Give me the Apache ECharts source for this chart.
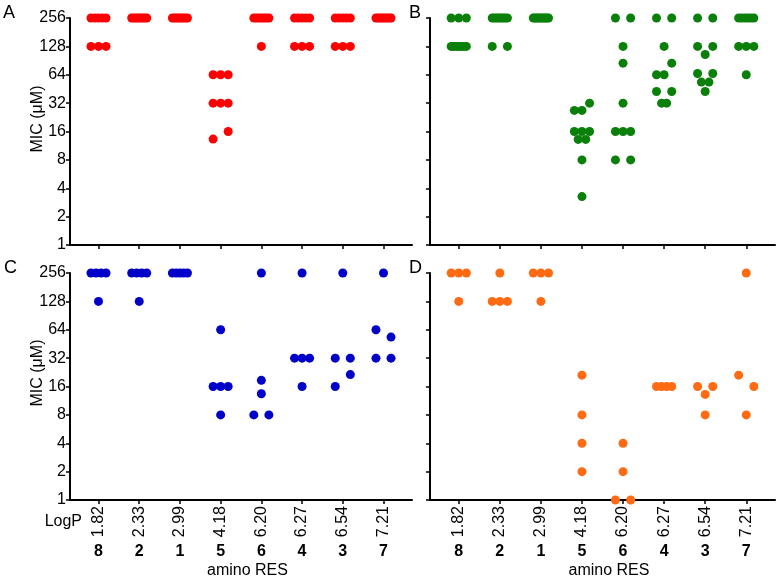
<!DOCTYPE html>
<html><head><meta charset="utf-8">
<script src="https://cdn.jsdelivr.net/npm/echarts@6/dist/echarts.min.js"></script>
<style>html,body{margin:0;padding:0;background:#fff}#c{width:777px;height:581px}</style>
</head><body><div id="c"></div>
<script>
// ---- data ----
const compounds = ['8','2','1','5','6','4','3','7'];
const logP = ['1.82','2.33','2.99','4.18','6.20','6.27','6.54','7.21'];
const yTicks = [1,2,4,8,16,32,64,128,256];

const micA = [
  [256,256,256,256,256,128,128,128],
  [256,256,256,256,256,256,256,256],
  [256,256,256,256,256,256,256,256],
  [64,64,64,32,32,32,13.3,16],
  [256,256,256,256,256,256,256,128],
  [256,256,256,256,256,128,128,128],
  [256,256,256,256,256,128,128,128],
  [256,256,256,256,256,256,256,256]
];
const micB = [
  [256,256,256,128,128,128,128,128,128,128],
  [256,256,256,256,256,256,256,256,128,128],
  [256,256,256,256,256,256,256,256,256,256],
  [26.8,26.8,32,16,13.2,16,13.2,16,8,3.26],
  [256,256,128,85,32,16,16,16,8,8],
  [256,256,128,64,64,85,42.5,32,32,42.5],
  [256,256,128,105,128,66,53.5,42.5,53.5,66],
  [256,256,256,256,256,256,128,128,128,64]
];
const micC = [
  [256,256,256,256,128],
  [256,256,256,256,128],
  [256,256,256,256,256],
  [64,16,16,16,8],
  [256,18.6,13.4,8,8],
  [256,32,32,32,16],
  [256,32,32,16,21.4],
  [256,64,53.5,32,32]
];
const micD = [
  [256,256,256,128],
  [256,128,128,128],
  [256,256,256,128],
  [21.1,8,4,2],
  [4,2,1,1],
  [16,16,16,16],
  [16,13.2,16,8],
  [256,21.1,16,8]
];

const panels = [
  {letter:'A', data: micA, color:'#ff0000'},
  {letter:'B', data: micB, color:'#0a800a'},
  {letter:'C', data: micC, color:'#0000c8'},
  {letter:'D', data: micD, color:'#ff6a13'}
];

// ---- scatter-dot layout (spread of near-equal values within a column) ----
const JIT = 0.185;      // horizontal spread unit, in category units
const ROW_TOL = 0.45;   // values closer than this (log2) share a row
function columnPoints(vals, catIdx) {
  const order = vals.map((v, i) => i).sort((a, b) => (vals[b] - vals[a]) || (a - b));
  const rows = [];
  let cur = [order[0]];
  for (let k = 1; k < order.length; k++) {
    if (Math.log2(vals[order[k-1]] / vals[order[k]]) < ROW_TOL) cur.push(order[k]);
    else { rows.push(cur); cur = [order[k]]; }
  }
  rows.push(cur);
  const pts = [];
  rows.forEach(r => {
    r.sort((a, b) => a - b);
    const n = r.length;
    r.forEach((i, j) => {
      const off = n === 1 ? 0 : -1 + 2 * j / (n - 1);
      pts.push([catIdx + 1 + off * JIT, vals[i]]);
    });
  });
  return pts;
}

const FONT = '"Liberation Sans", Arial, Helvetica, sans-serif';
const catPos = compounds.map((c, i) => i + 1);
const grids = [
  {left:70, top:18, width:342, height:227},
  {left:430, top:18, width:345, height:227},
  {left:70, top:273, width:342, height:227},
  {left:430, top:273, width:345, height:227}
];

const xAxes = [], yAxes = [], series = [];
panels.forEach((p, gi) => {
  const bottom = gi >= 2;
  xAxes.push({
    type:'value', gridIndex: gi, min: 0.3, max: 8.7, position:'bottom',
    axisLine:{show:true, onZero:false, lineStyle:{color:'#000', width:2}},
    axisTick:{show:true, customValues: catPos, length:4, lineStyle:{color:'#000', width:1.5}},
    axisLabel: bottom ? {show:true, customValues: catPos, rotate:90, margin:6,
      formatter: v => logP[Math.round(v) - 1], color:'#000', fontSize:16, fontFamily: FONT}
      : {show:false},
    splitLine:{show:false}
  });
  if (bottom) {
    xAxes.push({
      type:'value', gridIndex: gi, min: 0.3, max: 8.7, position:'bottom',
      axisLine:{show:false}, axisTick:{show:false}, splitLine:{show:false},
      axisLabel:{show:true, customValues: catPos, margin:44,
        formatter: v => compounds[Math.round(v) - 1], color:'#000', fontSize:16,
        fontWeight:'bold', fontFamily: FONT}
    });
  }
  yAxes.push({
    type:'log', logBase:2, min:1, max:256, interval:1, gridIndex: gi,
    axisLine:{show:true, lineStyle:{color:'#000', width:2}},
    axisTick:{show:true, length:4, lineStyle:{color:'#000', width:1.5}},
    axisLabel:{show: gi % 2 === 0, margin:4, color:'#000', fontSize:16, fontFamily: FONT,
      formatter: v => String(Math.round(v))},
    splitLine:{show:false}, minorTick:{show:false}
  });
});

let xi = 0;
panels.forEach((p, gi) => {
  const pts = [];
  p.data.forEach((vals, ci) => pts.push(...columnPoints(vals, ci)));
  series.push({
    type:'scatter', xAxisIndex: xi, yAxisIndex: gi, data: pts,
    symbol:'circle', symbolSize:9, clip:false, silent:true,
    itemStyle:{color: p.color, opacity:1}
  });
  xi += gi >= 2 ? 2 : 1;
});

const txt = (text, x, y, opts) => Object.assign({
  type:'text', x, y, silent:true,
  style: Object.assign({text, fill:'#000', font: '16px ' + FONT, align:'left', verticalAlign:'middle'}, opts && opts.style)
}, opts && opts.el);

const graphic = [
  txt('A', 3, 13, {style:{font:'18px ' + FONT}}),
  txt('B', 409, 13, {style:{font:'18px ' + FONT}}),
  txt('C', 4, 268, {style:{font:'18px ' + FONT}}),
  txt('D', 409, 268, {style:{font:'18px ' + FONT}}),
  txt('MIC (\u03bcM)', 38, 119, {style:{align:'center'}, el:{rotation: Math.PI / 2}}),
  txt('MIC (\u03bcM)', 38, 373, {style:{align:'center'}, el:{rotation: Math.PI / 2}}),
  txt('LogP', 82, 522, {style:{align:'right'}}),
  txt('amino RES', 247.5, 571, {style:{align:'center'}}),
  txt('amino RES', 609, 571, {style:{align:'center'}})
];

const chart = echarts.init(document.getElementById('c'), null, {renderer:'canvas'});
chart.setOption({
  animation:false,
  backgroundColor:'#fff',
  grid: grids,
  xAxis: xAxes,
  yAxis: yAxes,
  series,
  graphic
});
</script>
</body></html>
